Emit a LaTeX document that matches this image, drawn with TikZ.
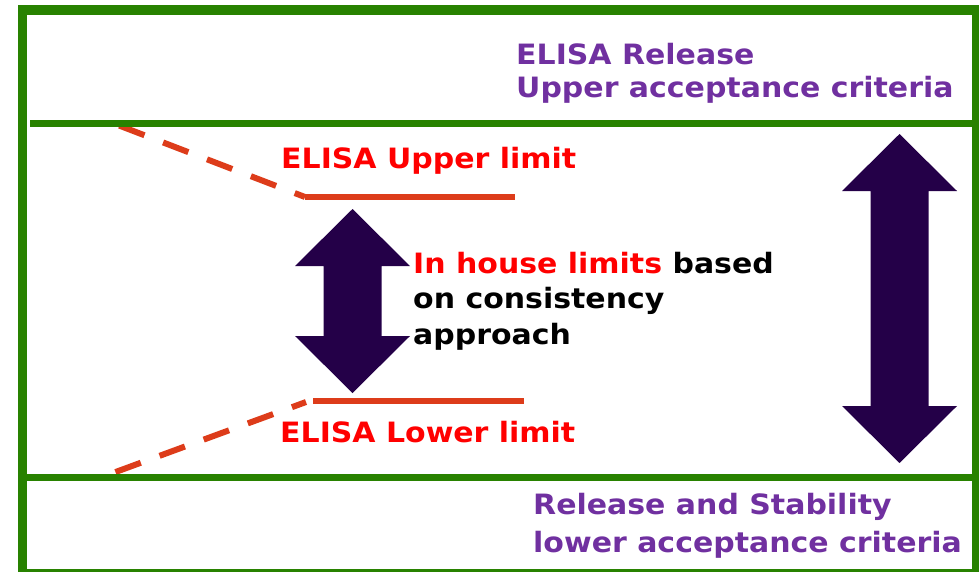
\documentclass[tikz,border=0pt]{standalone}
\usepackage{fontspec}
\setmainfont{DejaVu Sans}[FakeStretch=1.07]
\usepackage{tikz}
\definecolor{framegreen}{RGB}{40, 130, 0}
\definecolor{limitred}{RGB}{221, 60, 26}
\definecolor{textred}{RGB}{255, 0, 0}
\definecolor{critpurple}{RGB}{112, 48, 160}
\definecolor{arrowfill}{RGB}{36, 0, 72}

% two-headed block arrow: centre x, top tip y, bottom tip y
\newcommand{\rangearrow}[3]{%
  \fill[arrowfill] (#1,#2) -- (#1+57.5,#2+57) -- (#1+29,#2+57) -- (#1+29,#3-57)
    -- (#1+57.5,#3-57) -- (#1,#3) -- (#1-57.5,#3-57) -- (#1-29,#3-57)
    -- (#1-29,#2+57) -- (#1-57.5,#2+57) -- cycle;}

\begin{document}
\begin{tikzpicture}[x=1pt, y=-1pt,
  lbl/.style={anchor=base west, inner sep=0pt, align=left,
    font=\bfseries\fontsize{28}{33}\selectfont},
  limitline/.style={limitred, line width=6.5pt},
  trend/.style={limitred, line width=6pt, dash pattern=on 27pt off 20pt}]
\useasboundingbox (0,0) rectangle (979,571);

% Trend lines towards the outer criteria
\draw[trend, dash phase=16pt] (305,197) -- (110,122);
\draw[trend, dash phase=12pt] (306,402) -- (102,477);

% ELISA limits
\draw[limitline] (305,197) -- (515,197);
\draw[limitline] (313,401) -- (524,401);

% Frame and criteria lines
\draw[framegreen, line width=9.5pt] (22.5,10) rectangle (976.5,574);
\draw[framegreen, line width=7pt] (30,123.5) -- (976,123.5);
\draw[framegreen, line width=7pt] (22,477.5) -- (976,477.5);

% Arrows
\rangearrow{352.5}{209}{393}
\rangearrow{899.5}{134}{463}

% Labels (base anchor sits on the last line)
\node[lbl, text=critpurple] (release) at (516,97) {ELISA Release\\Upper acceptance criteria};
\node[lbl, text=textred] (upperlim) at (281,168) {ELISA Upper limit};
\node[lbl, font=\bfseries\fontsize{28}{35.5}\selectfont] (inhouse) at (413,344)
  {\textcolor{textred}{In house limits} based\\on consistency\\approach};
\node[lbl, text=textred] (lowerlim) at (280,442) {ELISA Lower limit};
\node[lbl, text=critpurple, font=\bfseries\fontsize{28}{38}\selectfont] (stability) at (533,552)
  {Release and Stability\\lower acceptance criteria};
\end{tikzpicture}
\end{document}
